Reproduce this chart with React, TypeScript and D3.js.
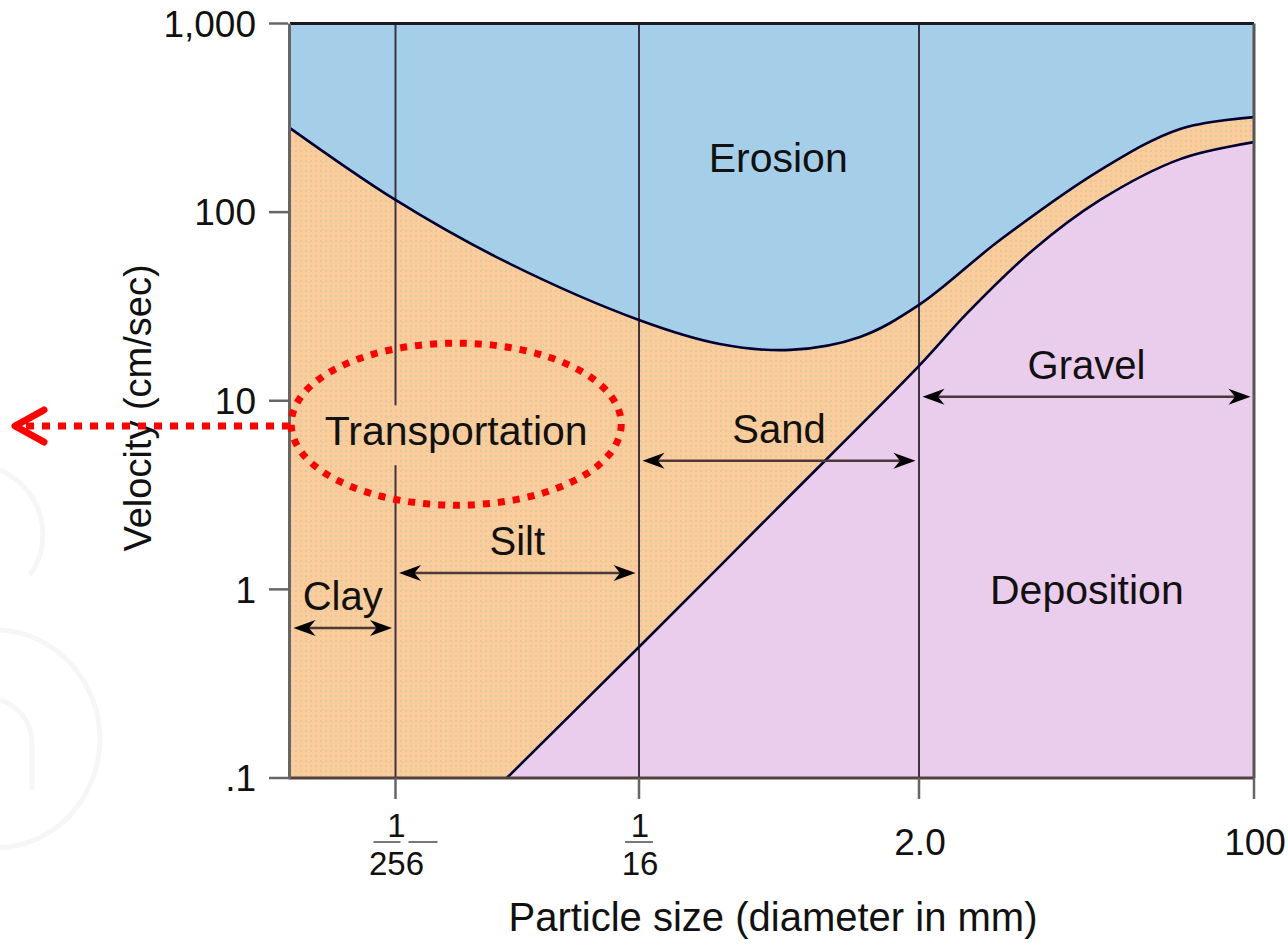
import React from 'react';
import * as d3 from 'd3';

// ---------- data ----------
const X_MIN = 0.001;
const xTickValues = [1 / 256, 1 / 16, 2, 100];
const xTickNumerators = ['1', '1', '2.0', '100'];
const xTickDenominators = ['256', '16', '', ''];
const yTickValues = [0.1, 1, 10, 100, 1000];
const yTickLabels = ['.1', '1', '10', '100', '1,000'];

// erosion threshold curve (particle size mm, velocity cm/s)
const erosionSize = [0.001, 1 / 256, 0.01285, 1 / 16, 0.17, 0.406, 0.964, 2, 5.15, 16.6, 42.2, 100];
const erosionVelocity = [279, 116, 56.5, 26.8, 20.0, 18.6, 21.8, 32.2, 71.1, 167, 276, 319];

// deposition (settling) curve
const depositionSize = [0.01387, 1 / 16, 0.362, 2, 3.53, 7.6, 16.6, 42.2, 100];
const depositionVelocity = [0.1, 0.495, 2.81, 15.3, 29.3, 63.2, 116, 191, 235];

const sizeClasses = ['Clay', 'Silt', 'Sand', 'Gravel'];
const classFrom = [X_MIN, 1 / 256, 1 / 16, 2];
const classTo = [1 / 256, 1 / 16, 2, 100];
const classArrowVelocity = [0.625, 1.22, 4.81, 10.5];

const regionNames = ['Erosion', 'Transportation', 'Deposition'];
const regionSize = [0.35, 0.0078, 14.2];
const regionVelocity = [195, 6.9, 1.0];

const xTitle = 'Particle size (diameter in mm)';
const yTitle = 'Velocity (cm/sec)';

// ---------- layout ----------
const W = 1288;
const H = 945;
const L = 290;
const R = 1254;
const T = 23.5;
const B = 778;
const FONT = '"Liberation Sans", Arial, Helvetica, sans-serif';

const x = d3.scaleLog().domain([X_MIN, 1 / 256, 1 / 16, 2, 100]).range([L, 395.5, 639, 919, R]);
const y = d3.scaleLog().domain([0.1, 1000]).range([B, T]);

function arrowHead(tip: number, yy: number, dir: number) {
  const len = 22;
  const h = 8;
  return `M${tip},${yy}L${tip - dir * len},${yy - h}L${tip - dir * len * 0.7},${yy}L${tip - dir * len},${yy + h}Z`;
}

export default function App() {
  const erosionPts: [number, number][] = erosionSize.map((s, i) => [x(s), y(erosionVelocity[i])]);
  const depositionPts: [number, number][] = depositionSize.map((s, i) => [x(s), y(depositionVelocity[i])]);

  const curve = d3.curveCatmullRom.alpha(0.5);
  const line = d3.line<[number, number]>().curve(curve);
  const areaTop = d3
    .area<[number, number]>()
    .x((d) => d[0])
    .y0(T)
    .y1((d) => d[1])
    .curve(curve);
  const areaBottom = d3
    .area<[number, number]>()
    .x((d) => d[0])
    .y0(B)
    .y1((d) => d[1])
    .curve(curve);

  const transX = x(regionSize[1]);
  const transY = y(regionVelocity[1]);

  return (
    <svg
      width={W}
      height={H}
      viewBox={`0 0 ${W} ${H}`}
      style={{ position: 'absolute', left: 0, top: 0, background: '#fff' }}
      fontFamily={FONT}
    >
      <defs>
        <pattern id="pOrange" width="5" height="5" patternUnits="userSpaceOnUse">
          <rect width="5" height="5" fill="#fdcc9a" />
          <rect x="0" y="0" width="2" height="2" fill="#d6cc9e" />
        </pattern>
        <clipPath id="plotClip">
          <rect x={L} y={T} width={R - L} height={B - T} />
        </clipPath>
      </defs>

      {/* faint watermark */}
      <g fill="none" stroke="#f6f6f6" strokeWidth={5}>
        <path d="M0,470 A70,70 0 0 1 30,575" />
        <path d="M0,630 A105,110 0 0 1 100,740 A105,110 0 0 1 0,848" />
        <path d="M0,700 A45,45 0 0 1 32,740 L32,790" />
      </g>

      {/* regions */}
      <g clipPath="url(#plotClip)">
        <rect x={L} y={T} width={R - L} height={B - T} fill="url(#pOrange)" />
        <path d={areaTop(erosionPts) || ''} fill="#a5cfe9" />
        <path d={areaBottom(depositionPts) || ''} fill="#eacdec" />

        {/* size class boundaries */}
        {xTickValues.slice(0, 3).map((v, i) =>
          i === 0 ? (
            <g key={i}>
              <line x1={x(v)} x2={x(v)} y1={T} y2={transY - 26} stroke="#3d3344" strokeWidth={2} />
              <line x1={x(v)} x2={x(v)} y1={transY + 34} y2={B} stroke="#3d3344" strokeWidth={2} />
            </g>
          ) : (
            <line key={i} x1={x(v)} x2={x(v)} y1={T} y2={B} stroke="#3d3344" strokeWidth={2} />
          )
        )}

        <path d={line(erosionPts) || ''} fill="none" stroke="#000033" strokeWidth={2.6} />
        <path d={line(depositionPts) || ''} fill="none" stroke="#000033" strokeWidth={2.6} />
      </g>

      {/* frame */}
      <line x1={L} x2={R} y1={T} y2={T} stroke="#1a1a22" strokeWidth={3} />
      <line x1={L} x2={R} y1={B} y2={B} stroke="#554040" strokeWidth={3} />
      <line x1={L - 0.5} x2={L - 0.5} y1={T} y2={B + 1.5} stroke="#666666" strokeWidth={3} />
      <line x1={R} x2={R} y1={T} y2={B} stroke="#555555" strokeWidth={3} />

      {/* y ticks */}
      {yTickValues.map((v, i) => (
        <g key={v}>
          <line x1={269} x2={L - 2} y1={y(v)} y2={y(v)} stroke="#666666" strokeWidth={2.5} />
          <text x={256} y={y(v)} dy="0.36em" textAnchor="end" fontSize={37} fill="#111">
            {yTickLabels[i]}
          </text>
        </g>
      ))}

      {/* x ticks */}
      {xTickValues.map((v, i) => {
        const xt = x(v);
        const den = xTickDenominators[i];
        return (
          <g key={i}>
            <line x1={xt} x2={xt} y1={B} y2={B + 21} stroke="#666666" strokeWidth={2.5} />
            {den ? (
              <g>
                <text x={xt + 1} y={837} textAnchor="middle" fontSize={33} fill="#111">
                  {xTickNumerators[i]}
                </text>
                {den.length === 3 ? (
                  <g stroke="#777" strokeWidth={2}>
                    <line x1={xt - 22} x2={xt + 5} y1={842} y2={842} />
                    <line x1={xt + 13} x2={xt + 42} y1={842} y2={842} />
                  </g>
                ) : (
                  <line x1={xt - 14} x2={xt + 14} y1={842} y2={842} stroke="#777" strokeWidth={2} />
                )}
                <text x={xt + 1} y={875} textAnchor="middle" fontSize={33} fill="#111">
                  {den}
                </text>
              </g>
            ) : (
              <text x={xt + 1} y={855} textAnchor="middle" fontSize={37} fill="#111">
                {xTickNumerators[i]}
              </text>
            )}
          </g>
        );
      })}

      {/* axis titles */}
      <text x={773} y={931} textAnchor="middle" fontSize={40} fill="#111">
        {xTitle}
      </text>
      <text transform={`translate(151,408) rotate(-90)`} textAnchor="middle" fontSize={38} fill="#111">
        {yTitle}
      </text>

      {/* region labels */}
      {regionNames.map((n, i) => (
        <text
          key={n}
          x={x(regionSize[i])}
          y={y(regionVelocity[i])}
          dy="0.35em"
          textAnchor="middle"
          fontSize={41}
          fill="#111"
        >
          {n}
        </text>
      ))}

      {/* size classes with arrows */}
      {sizeClasses.map((n, i) => {
        const ay = y(classArrowVelocity[i]);
        const x0 = x(classFrom[i]) + 3.5;
        const x1 = x(classTo[i]) - 3.5;
        return (
          <g key={n}>
            <line x1={x0 + 10} x2={x1 - 10} y1={ay} y2={ay} stroke="#4d3838" strokeWidth={2.5} />
            <path d={arrowHead(x0, ay, -1)} fill="#000" />
            <path d={arrowHead(x1, ay, 1)} fill="#000" />
            <text x={(x0 + x1) / 2} y={ay - 32} dy="0.35em" textAnchor="middle" fontSize={40} fill="#111">
              {n}
            </text>
          </g>
        );
      })}

      {/* red annotation */}
      <g fill="none" stroke="#ff0000" strokeWidth={7}>
        <ellipse cx={transX} cy={transY - 7} rx={165} ry={81} strokeDasharray="7 8" />
        <line x1={290} x2={22} y1={426} y2={426} strokeDasharray="8 8" />
        <polyline points="44,410 15,426 44,442" strokeLinecap="round" strokeLinejoin="round" />
      </g>
    </svg>
  );
}
